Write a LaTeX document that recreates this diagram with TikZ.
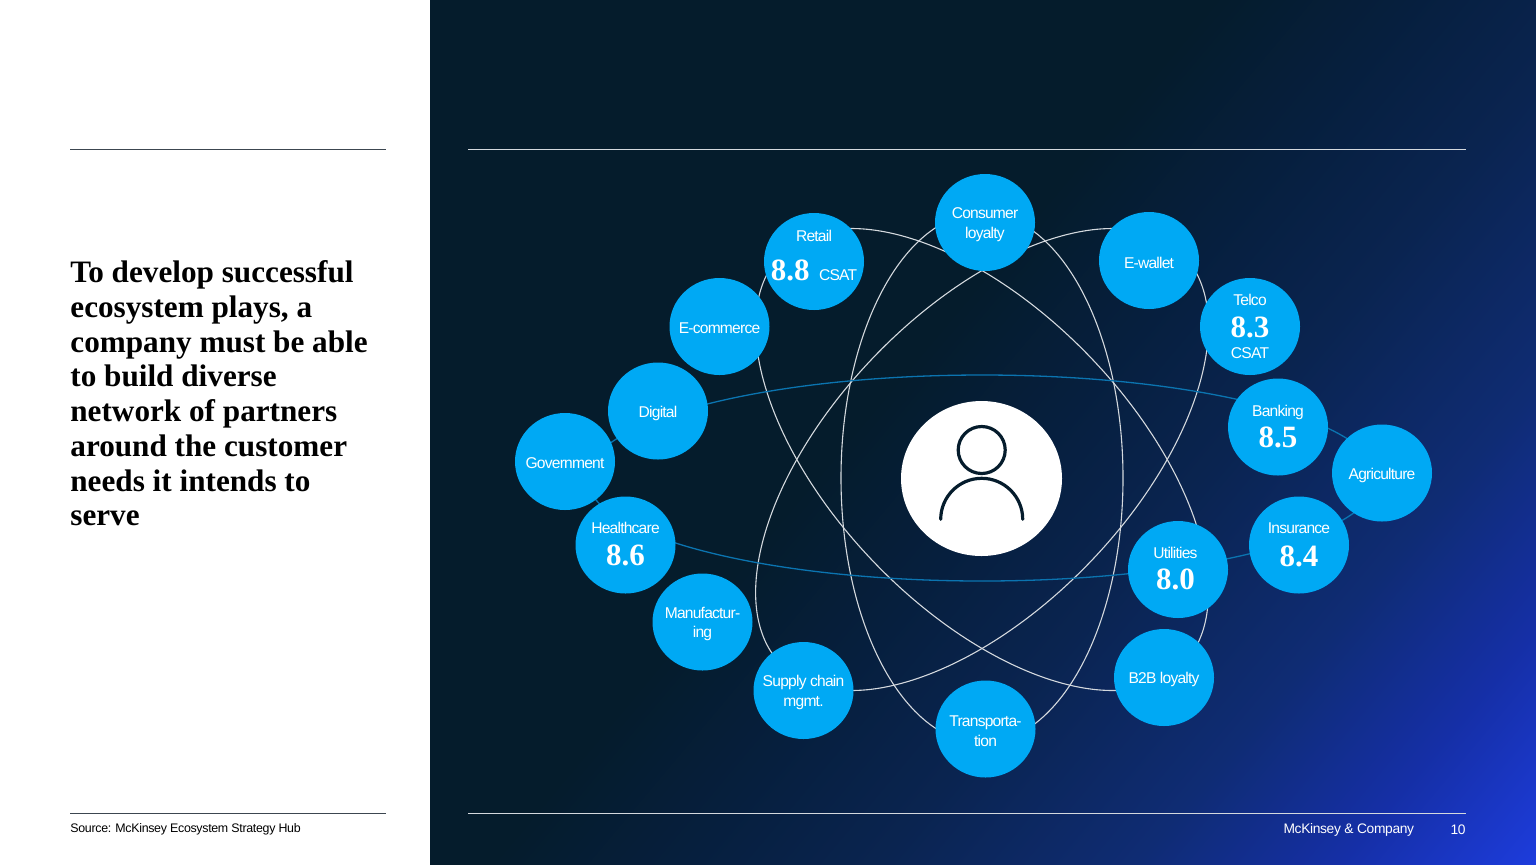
\documentclass[tikz,border=0pt]{standalone}
\usepackage{fontspec}
\setmainfont{Liberation Sans}[LetterSpace=-5]
\newfontfamily\footfont{Liberation Sans}[LetterSpace=-2.5]
\newfontfamily\scorefont{Liberation Serif}
\usetikzlibrary{shapes.geometric}

% fixed distance between baselines in the balls
\setlength{\lineskiplimit}{-30pt}
\setlength{\normallineskiplimit}{-30pt}

\definecolor{inkdark}{HTML}{051C2C}
\definecolor{ballblue}{HTML}{00A9F4}
\definecolor{ringblue}{HTML}{0B74B0}
\definecolor{ringwhite}{HTML}{D4D9DE}
\definecolor{rulegrey}{HTML}{3C4650}
\definecolor{fadeone}{HTML}{061F3E}
\definecolor{fadetwo}{HTML}{0A2450}
\definecolor{fadethree}{HTML}{0F2C74}
\definecolor{fadefour}{HTML}{152FA6}
\definecolor{fadefive}{HTML}{1D3CDC}

% panel fade, 25bp and 75bp are the ends of the square it fills
\pgfdeclarehorizontalshading{panelfade}{100bp}{
    color(0bp)=(inkdark); color(47.2bp)=(inkdark);
    color(51.4bp)=(fadeone);
    color(55.5bp)=(fadetwo);
    color(61bp)=(fadethree);
    color(65.3bp)=(fadefour);
    color(69.5bp)=(fadefive);
    color(100bp)=(fadefive)}
\newcommand{\scorenum}[1]{{\fontsize{15.5}{16}\selectfont\scorefont\bfseries #1}}

\begin{document}
\begin{tikzpicture}[x=0.5pt,y=-0.5pt,
    orbit/.style={ringwhite,line width=0.55pt},
    bluering/.style={ringblue,line width=0.65pt},
    ballshape/.style={ellipse,fill=ballblue,inner sep=0pt,minimum width=50pt,minimum height=48.5pt},
    ball/.style={ballshape,label={[balltext]center:#1}},
    scoreball/.style 2 args={ballshape,label={[balltext,#1]center:#2}},
    balltext/.style={text=white,inner sep=0pt,align=center,yshift=-1pt,font=\fontsize{7.8}{9.7}\selectfont},
    rule/.style={line width=0.5pt},
    footnote/.style={inner sep=0pt,font=\fontsize{6.2}{8}\selectfont\footfont},
    headline/.style={anchor=north west,inner sep=0pt,align=left,text=black,font=\fontsize{15.6}{17.35}\selectfont\scorefont\bfseries}]

    \useasboundingbox (0,0) rectangle (1536,864);
    \fill[white] (0,0) rectangle (430,864);
    \begin{scope}
        \clip (430,0) rectangle (1536,864);
        \shade[shading=panelfade,shading angle=-40] (83,-468) rectangle (1883,1332);
    \end{scope}

    \draw[rule,rulegrey] (70,149) -- (386,149);
    \draw[rule,rulegrey] (70,813) -- (386,813);
    \draw[rule,ringwhite] (468,149) -- (1466,149);
    \draw[rule,ringwhite] (468,813) -- (1466,813);

    \node [headline](title) at (70,260.5) {To develop successful\\ecosystem plays, a\\company must be able\\to build diverse\\network of partners\\around the customer\\needs it intends to\\serve};
    \node [footnote,anchor=west](source) at (70,829) {Source: McKinsey Ecosystem Strategy Hub};
    \node [footnote,anchor=east,text=white,font=\fontsize{6.9}{8}\selectfont\footfont](brand) at (1414.5,830) {McKinsey \& Company};
    \node [footnote,anchor=east,text=white,font=\fontsize{6.9}{8}\selectfont\footfont](page) at (1466,830) {10};

    % rings go under the balls
    \draw[orbit] (982,478) ellipse [x radius=141,y radius=265];
    \draw[orbit,rotate around={46:(982,459.5)}] (982,459.5) ellipse [x radius=287,y radius=149];
    \draw[orbit,rotate around={-46:(982,459.5)}] (982,459.5) ellipse [x radius=287,y radius=149];
    \draw[bluering] (982,478) ellipse [x radius=395,y radius=103];

    \node [ellipse,fill=white,inner sep=0pt,minimum width=80.5pt,minimum height=77.5pt](customer) at (981.5,478.5) {};
    \draw[inkdark,line width=1.6pt] (981.7,450) circle [radius=23.5];
    \draw[inkdark,line width=1.6pt,line cap=round] (940.7,519.3) arc [start angle=180,end angle=360,radius=41];

    \node [ball={Consumer\\loyalty}](consumer) at (985,222.5) {};
    \node [scoreball={yshift=4pt}{Retail\\[10pt]\scorenum{8.8}\hspace{3pt} CSAT}](retail) at (814,261.5) {};
    \node [ball=E-wallet](ewallet) at (1149,260.5) {};
    \node [ball=E-commerce](ecommerce) at (719.5,326.5) {};
    \node [scoreball={yshift=1pt}{Telco\\[6.3pt]\scorenum{8.3}\\[1pt]CSAT}](telco) at (1250,326.5) {};
    \node [ball=Digital](digital) at (658,411) {};
    \node [scoreball={yshift=1.25pt}{Banking\\[5.5pt]\scorenum{8.5}}](banking) at (1278,427) {};
    \node [ball=Agriculture](agriculture) at (1382,473) {};
    \node [ball=Government](government) at (565,461.5) {};
    \node [scoreball={yshift=1.5pt}{Healthcare\\[6pt]\scorenum{8.6}}](healthcare) at (625.5,545) {};
    \node [scoreball={yshift=1pt}{Insurance\\[6.5pt]\scorenum{8.4}}](insurance) at (1299,545) {};
    \node [scoreball={xshift=-1.25pt,yshift=1.5pt}{Utilities\\[6pt]\scorenum{8.0}}](utilities) at (1178,569.5) {};
    \node [ball={Manufactur-\\ing}](manufacturing) at (702.5,622) {};
    \node [ball={Supply chain\\mgmt.}](supply) at (803.5,690.5) {};
    \node [ball=B2B loyalty](btob) at (1164,677.5) {};
    \node [ball={Transporta-\\tion}](transport) at (985.5,729) {};
\end{tikzpicture}
\end{document}
